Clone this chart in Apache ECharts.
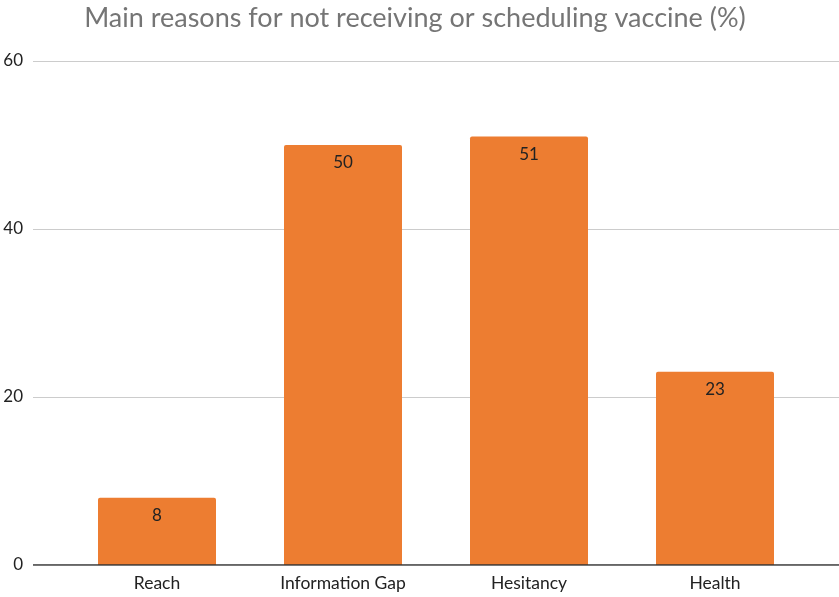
<!DOCTYPE html>
<html><head><meta charset="utf-8">
<script src="https://cdn.jsdelivr.net/npm/echarts@6/dist/echarts.min.js"></script>
<style>html,body{margin:0;padding:0;background:#fff}#c{width:839px;height:597px}</style>
</head><body><div id="c"></div>
<script>
const categories = ['Reach', 'Information Gap', 'Hesitancy', 'Health'];
const values = [8, 50, 51, 23];
const yTicks = [0, 20, 40, 60];

const chart = echarts.init(document.getElementById('c'), null, {renderer: 'canvas'});
const font = 'Lato, "Noto Sans", sans-serif';
chart.setOption({
  animation: false,
  backgroundColor: '#fff',
  title: {
    text: 'Main reasons for not receiving or scheduling vaccine (%)',
    left: 410, top: 0, textAlign: 'center',
    textStyle: {fontFamily: font, fontSize: 27, fontWeight: 'normal', color: '#757575'}
  },
  grid: [
    {left: 33, right: 0, top: 61, bottom: 32},
    {left: 64, right: 31, top: 61, bottom: 32}
  ],
  xAxis: [
    {gridIndex: 0, type: 'value', min: 0, max: 1, show: true,
     axisLine: {show: false}, axisTick: {show: false}, axisLabel: {show: false}, splitLine: {show: false}},
    {gridIndex: 1, type: 'category', data: categories,
     axisLine: {show: false}, axisTick: {show: false},
     axisLabel: {fontFamily: font, fontSize: 17.5, color: '#222', margin: 9}}
  ],
  yAxis: [
    {gridIndex: 0, type: 'value', min: yTicks[0], max: yTicks[yTicks.length-1], interval: 20,
     axisLine: {show: false}, axisTick: {show: false},
     axisLabel: {fontFamily: font, fontSize: 17, color: '#222', margin: 10},
     splitLine: {lineStyle: {color: '#cccccc', width: 1}}},
    {gridIndex: 1, type: 'value', min: yTicks[0], max: yTicks[yTicks.length-1], interval: 20,
     show: false, splitLine: {show: false}}
  ],
  series: [
    {type: 'bar', xAxisIndex: 1, yAxisIndex: 1, data: values, barWidth: 118,
     itemStyle: {color: '#ED7D31', borderRadius: [2, 2, 0, 0]},
     label: {show: true, position: 'insideTop', distance: 9, fontFamily: font, fontSize: 17, color: '#222'},
     z: 2},
    {type: 'line', xAxisIndex: 0, yAxisIndex: 0, data: [[0, 0], [1, 0]], symbol: 'none',
     lineStyle: {color: '#333', width: 1.5}, z: 3, silent: true}
  ]
});
</script></body></html>
